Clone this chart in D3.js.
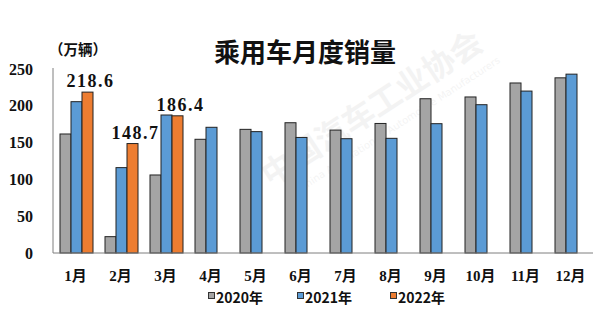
<!DOCTYPE html>
<html>
<head>
<meta charset="utf-8">
<script src="https://cdn.jsdelivr.net/npm/d3@7"></script>
<style>
  body { margin: 0; background: #fff; }
  svg { display: block; }
</style>
</head>
<body>
<div id="chart"></div>
<script>
// data (万辆)
var months = ["1月", "2月", "3月", "4月", "5月", "6月", "7月", "8月", "9月", "10月", "11月", "12月"];
var years = ["2020年", "2021年", "2022年"];
var sales2020 = [161.7, 22.2, 106, 154.5, 168, 177, 167, 176, 209.6, 212, 231, 238];
var sales2021 = [205.6, 116, 187.5, 170.8, 164.9, 157, 155.3, 155.8, 175.7, 201.5, 220, 243];
var sales2022 = [218.6, 148.7, 186.4];
var yTicks = [0, 50, 100, 150, 200, 250];
var colors = ["#a5a5a5", "#5b9bd5", "#ed7d31"];

var svgWidth = 600;
var svgHeight = 327;

var svg = d3.select("#chart")
  .append("svg")
  .attr("width", svgWidth)
  .attr("height", svgHeight);

// faint watermark behind everything
var wm = svg.append("g")
  .attr("transform", "translate(378, 118) rotate(-33)")
  .style("fill", "#000")
  .style("opacity", 0.045);
wm.append("text")
  .attr("text-anchor", "middle")
  .style("font-family", "'Noto Sans CJK SC', sans-serif")
  .style("font-weight", "bold")
  .style("font-size", "32px")
  .text("中国汽车工业协会");
wm.append("text")
  .attr("y", 20)
  .attr("x", 15)
  .attr("text-anchor", "middle")
  .style("font-family", "'DejaVu Sans', sans-serif")
  .style("font-size", "10px")
  .text("China Association of Automobile Manufacturers");

var series = [sales2020, sales2021, sales2022];

var x0 = d3.scaleBand()
  .domain(months)
  .range([53, 593])
  .padding(0);

var x1 = d3.scaleBand()
  .domain(years)
  .range([7, 40])
  .padding(0);

var y = d3.scaleLinear()
  .domain([0, 250])
  .range([253, 69]);

// y tick labels
svg.append("g")
  .selectAll("text")
  .data(yTicks)
  .enter()
  .append("text")
  .attr("x", 33)
  .attr("y", d => y(d))
  .attr("dy", "0.35em")
  .attr("text-anchor", "end")
  .style("font-family", "'Liberation Serif', serif")
  .style("font-weight", "bold")
  .style("font-size", "16px")
  .style("fill", "#111")
  .text(d => d);

// bars
series.forEach(function(vals, i) {
  svg.append("g")
    .selectAll("rect")
    .data(vals)
    .enter()
    .append("rect")
    .attr("x", (d, j) => x0(months[j]) + x1(years[i]))
    .attr("y", d => y(d))
    .attr("width", x1.bandwidth())
    .attr("height", d => y(0) - y(d))
    .attr("fill", colors[i])
    .attr("stroke", "#222")
    .attr("stroke-width", 1);
});

// axis lines
svg.append("line")
  .attr("x1", 53).attr("x2", 53)
  .attr("y1", y(250) - 1).attr("y2", y(0))
  .attr("stroke", "#7f7f7f");
svg.append("line")
  .attr("x1", 53).attr("x2", 593)
  .attr("y1", y(0)).attr("y2", y(0))
  .attr("stroke", "#7f7f7f");

// 2022 value labels
svg.append("g")
  .selectAll("text")
  .data(sales2022)
  .enter()
  .append("text")
  .attr("x", (d, j) => x0(months[j]) + x1(years[2]) + x1.bandwidth() / 2 + 3)
  .attr("y", d => y(d) - 5)
  .attr("text-anchor", "middle")
  .style("font-family", "'Liberation Serif', serif")
  .style("font-weight", "bold")
  .style("font-size", "18px")
  .style("letter-spacing", "1.5px")
  .style("fill", "#111")
  .text(d => d.toFixed(1));

// month labels
svg.append("g")
  .selectAll("text")
  .data(months)
  .enter()
  .append("text")
  .attr("x", d => x0(d) + x0.bandwidth() / 2)
  .attr("y", 281)
  .attr("text-anchor", "middle")
  .style("font-family", "'Liberation Serif', 'Noto Sans CJK SC', serif")
  .style("font-weight", "bold")
  .style("font-size", "15px")
  .style("fill", "#111")
  .text(d => d);

// title
svg.append("text")
  .attr("x", 305)
  .attr("y", 62)
  .attr("text-anchor", "middle")
  .style("font-family", "'Noto Sans CJK SC', sans-serif")
  .style("font-weight", "bold")
  .style("font-size", "26px")
  .style("fill", "#111")
  .text("乘用车月度销量");

// unit
svg.append("text")
  .attr("x", 78)
  .attr("y", 55)
  .attr("text-anchor", "middle")
  .style("font-family", "'Noto Sans CJK SC', sans-serif")
  .style("font-weight", "bold")
  .style("font-size", "14.5px")
  .style("fill", "#111")
  .text("（万辆）");

// legend
var legendX = [208, 297, 390];
var legend = svg.append("g")
  .selectAll("g")
  .data(years)
  .enter()
  .append("g")
  .attr("transform", (d, i) => `translate(${legendX[i]}, 0)`);

legend.append("rect")
  .attr("x", 0.5)
  .attr("y", 292.5)
  .attr("width", 6)
  .attr("height", 6)
  .attr("fill", (d, i) => colors[i])
  .attr("stroke", "#333")
  .attr("stroke-width", 1);

legend.append("text")
  .attr("x", 8)
  .attr("y", 303)
  .style("font-family", "'Noto Sans CJK SC', sans-serif")
  .style("font-weight", "bold")
  .style("font-size", "14px")
  .style("fill", "#111")
  .text(d => d);
</script>
</body>
</html>
